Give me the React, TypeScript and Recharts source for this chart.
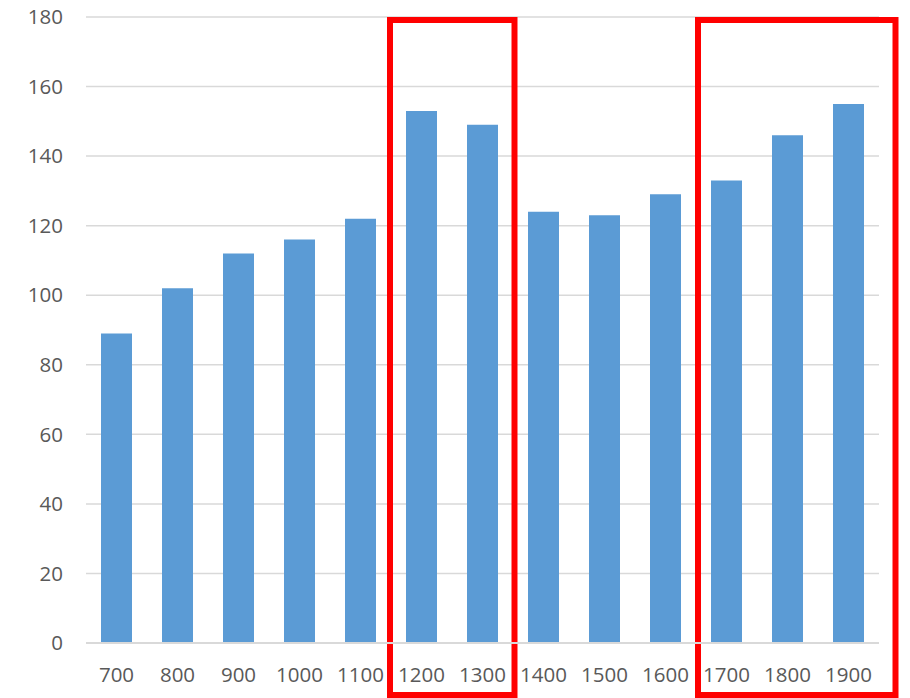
import React from 'react';
import { BarChart, Bar, XAxis, YAxis, CartesianGrid, ReferenceArea } from 'recharts';

const categories = ['700', '800', '900', '1000', '1100', '1200', '1300', '1400', '1500', '1600', '1700', '1800', '1900'];
const values = [89, 102, 112, 116, 122, 153, 149, 124, 123, 129, 133, 146, 155];
const yTicks = [0, 20, 40, 60, 80, 100, 120, 140, 160, 180];
const highlightRanges = [
  { from: '1200', to: '1300', extraLeft: 1, extraRight: 1.5 },
  { from: '1700', to: '1900', extraLeft: -2, extraRight: 16.5 },
];

const data = categories.map((c, i) => ({ name: c, value: values[i] }));

const makeBox = (extraLeft: number, extraRight: number) => (props: any) => {
  const { x, y, width, height } = props;
  const left = x - extraLeft;
  const right = x + width + extraRight;
  const top = y + 3;
  const bottom = y + height + 52;
  return (
    <rect x={left} y={top} width={right - left} height={bottom - top} fill="none" stroke="#ff0000" strokeWidth={6} />
  );
};

const tickStyle = { fill: '#595959', fontSize: 20.5, fontFamily: 'Open Sans, sans-serif' };

export default function App() {
  return (
    <div style={{ position: 'absolute', left: 0, top: 0, background: '#fff' }}>
      <BarChart width={910} height={698} data={data} margin={{ top: 17, right: 31, bottom: 0, left: 0 }}>
        <CartesianGrid vertical={false} stroke="#d9d9d9" strokeWidth={1.5} />
        <XAxis
          dataKey="name"
          height={55}
          axisLine={{ stroke: '#d9d9d9', strokeWidth: 2 }}
          tickLine={false}
          tickSize={0}
          tickMargin={24}
          tick={tickStyle}
          interval={0}
        />
        <YAxis
          width={86}
          domain={[0, 180]}
          ticks={yTicks}
          axisLine={false}
          tickLine={false}
          tickSize={0}
          tickMargin={23}
          tick={tickStyle}
        />
        <Bar dataKey="value" fill="#5b9bd5" barSize={31} isAnimationActive={false} />
        {highlightRanges.map((r, i) => (
          <ReferenceArea
            key={i}
            x1={r.from}
            x2={r.to}
            y1={0}
            y2={180}
            ifOverflow="visible"
            shape={makeBox(r.extraLeft, r.extraRight)}
          />
        ))}
      </BarChart>
    </div>
  );
}
